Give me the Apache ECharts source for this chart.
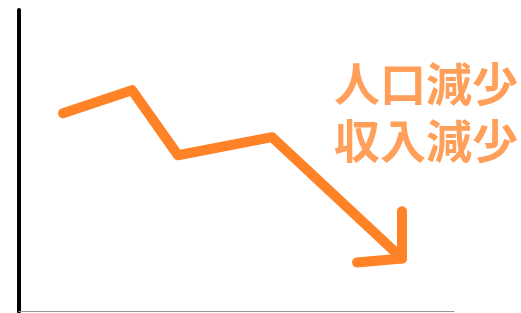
<!DOCTYPE html>
<html>
<head>
<meta charset="utf-8">
<script src="https://cdn.jsdelivr.net/npm/echarts@6/dist/echarts.min.js"></script>
<style>
  html, body { margin: 0; padding: 0; background: #fff; }
  #chart { width: 521px; height: 313px; }
</style>
</head>
<body>
<div id="chart"></div>
<script>
  // trend line (abstract units, no ticks shown)
  var trendX = [44, 113, 159, 253, 383]
  var trendY = [198, 221, 156, 174, 53]
  // arrowhead strokes
  var headX = [383, 383, 338]
  var headY = [100, 53, 49]
  var label = ['人口減少', '収入減少']

  function pairs(xs, ys) {
    return xs.map(function (x, i) { return [x, ys[i]] })
  }

  var lineStyle = {
    color: '#FF8226',
    width: 10,
    cap: 'round',
    join: 'round'
  }

  var myChart = echarts.init(document.getElementById('chart'))
  myChart.setOption({
    animation: false,
    title: {
      text: label.join('\n'),
      left: 329,
      top: 50,
      textStyle: {
        fontFamily: 'Noto Sans CJK JP',
        fontSize: 46,
        fontWeight: 'bold',
        lineHeight: 57,
        color: '#FF9F5A'
      }
    },
    grid: {
      left: 19,
      right: 67,
      top: 10,
      bottom: 1.5
    },
    xAxis: {
      type: 'value',
      min: 0,
      max: 435,
      axisLine: { show: true, lineStyle: { color: '#999999', width: 1 } },
      axisTick: { show: false },
      axisLabel: { show: false },
      splitLine: { show: false }
    },
    yAxis: {
      type: 'value',
      min: 0,
      max: 301,
      axisLine: { show: true, lineStyle: { color: '#000000', width: 4 } },
      axisTick: { show: false },
      axisLabel: { show: false },
      splitLine: { show: false }
    },
    series: [{
      type: 'line',
      data: pairs(trendX, trendY),
      symbol: 'none',
      lineStyle: lineStyle
    }, {
      type: 'line',
      data: pairs(headX, headY),
      symbol: 'none',
      lineStyle: lineStyle
    }]
  })
</script>
</body>
</html>
